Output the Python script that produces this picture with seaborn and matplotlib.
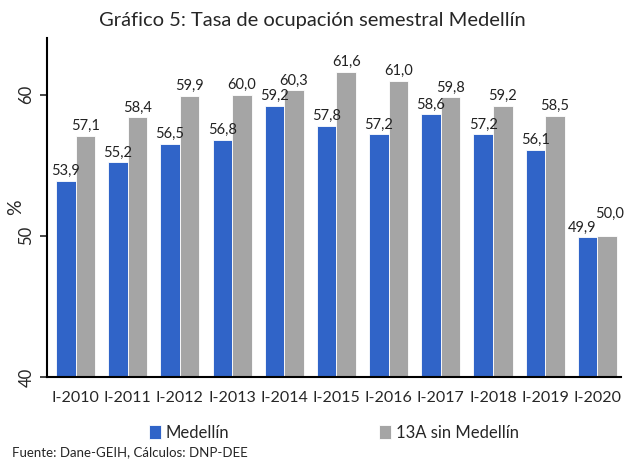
import pandas as pd
import seaborn as sns
import matplotlib.pyplot as plt

periodos = ["I-2010", "I-2011", "I-2012", "I-2013", "I-2014", "I-2015",
            "I-2016", "I-2017", "I-2018", "I-2019", "I-2020"]
medellin = [53.9, 55.2, 56.5, 56.8, 59.2, 57.8, 57.2, 58.6, 57.2, 56.1, 49.9]
trece_a = [57.1, 58.4, 59.9, 60.0, 60.3, 61.6, 61.0, 59.8, 59.2, 58.5, 50.0]
series = ["Medellín", "13A sin Medellín"]
colores = ["#3064c8", "#a5a5a5"]

df = pd.DataFrame({"periodo": periodos * 2,
                   "serie": [series[0]] * len(periodos) + [series[1]] * len(periodos),
                   "valor": medellin + trece_a})

sns.set_style("white")
plt.rcParams["font.family"] = ["Lato", "DejaVu Sans"]

fig = plt.figure(figsize=(6.24, 4.66), dpi=100)
ax = fig.add_axes([0.075, 0.191, 0.92, 0.727])
sns.barplot(data=df, x="periodo", y="valor", hue="serie", palette=colores,
            width=0.75, saturation=1, ax=ax, edgecolor="white", linewidth=0.6)

for i, cont in enumerate(ax.containers):
    anns = ax.bar_label(cont, labels=[f"{v:.1f}".replace(".", ",") for v in cont.datavalues],
                        padding=2, fontsize=10.5, color="#222222")
    # separar etiquetas del ultimo grupo (valores casi iguales)
    anns[-1].xyann = (-4, 2) if i == 0 else (2, 11)

ax.set_ylim(40, 64)
ax.set_yticks([40, 50, 60])
ax.set_yticklabels(["40", "50", "60"], rotation=90, va="center", fontsize=12)
ax.tick_params(axis="x", labelsize=11.5, length=0, pad=10)
ax.tick_params(axis="y", left=True, length=5, width=1.2, pad=4)
ax.set_xlabel("")
ax.set_ylabel("%", fontsize=14)
ax.yaxis.set_label_coords(-0.04, 0.5)
ax.set_xlim(-0.55, 10.45)
sns.despine(ax=ax)
for s in ["left", "bottom"]:
    ax.spines[s].set_color("black")
    ax.spines[s].set_linewidth(1.5)

ax.legend(loc="center", bbox_to_anchor=(0.5, -0.165), ncol=2, frameon=False,
          fontsize=12, handlelength=0.7, handleheight=0.9, handletextpad=0.3,
          columnspacing=9)

fig.text(0.5, 0.955, "Gráfico 5: Tasa de ocupación semestral Medellín",
         ha="center", va="center", fontsize=14.5)
fig.text(0.02, 0.03, "Fuente: Dane-GEIH, Cálculos: DNP-DEE", fontsize=9.5,
         ha="left", va="center")

fig.savefig("out.png", dpi=100)
